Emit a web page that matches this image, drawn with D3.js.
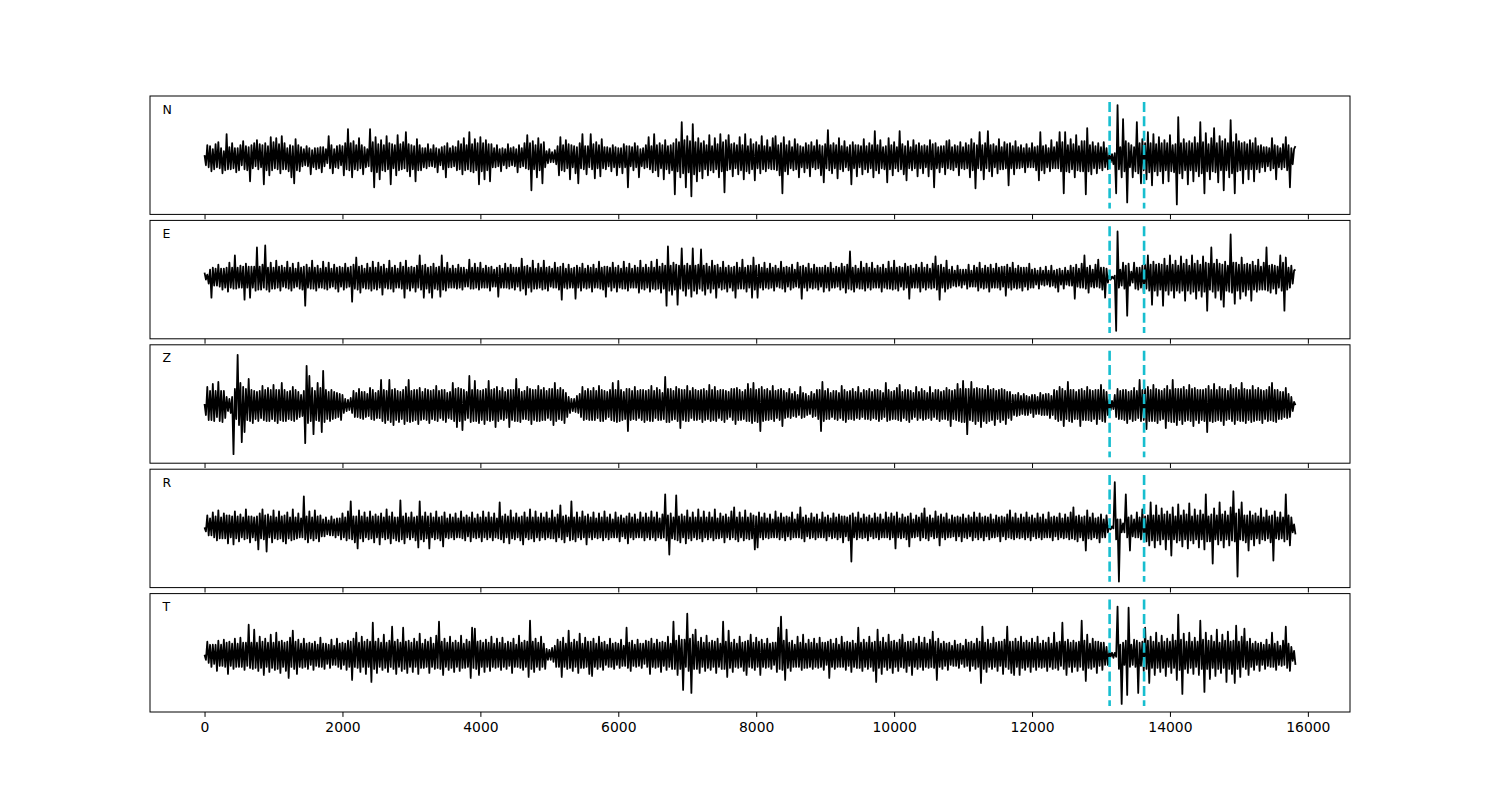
<!DOCTYPE html>
<html>
<head>
<meta charset="utf-8">
<script src="https://cdn.jsdelivr.net/npm/d3@7"></script>
<style>
body { margin: 0; background: #fff; }
svg { display: block; font-family: "DejaVu Sans", sans-serif; }
</style>
</head>
<body>
<svg></svg>
<script>
// channel names, one panel each
const channels = ["N", "E", "Z", "R", "T"];
// one value every 20 samples
const sampleStep = 20;
// phase picks (dashed lines)
const picks = [13125, 13625];
const xTicks = [0, 2000, 4000, 6000, 8000, 10000, 12000, 14000, 16000];
// y limits of each panel
const yLimits = [[-57, 61], [-61, 57], [-58, 60], [-60, 58], [-57, 61]];

const nVals = [
  2, -8, 12, -10, 11, -14, 8, -12, 13, -10, 15, -11, 9, -16, 6, -13, 23, -12, 10, -12,
  14, -11, 9, -15, 9, -13, 12, -8, 16, -12, 11, -13, 10, -24, 12, -11, 14, -9, 17, -12,
  13, -10, 12, -27, 14, -13, 11, -18, 20, -13, 15, -11, 19, -12, 13, -16, 21, -12, 14, -12,
  9, -14, 12, -20, 11, -26, 18, -13, 12, -14, 10, -9, 8, -8, 11, -9, 9, -17, 7, -10,
  9, -12, 9, -11, 10, -15, 10, -9, 8, -6, 21, -11, 12, -16, 8, -10, 11, -11, 12, -8,
  11, -18, 14, -12, 28, -13, 14, -20, 16, -12, 12, -13, 19, -11, 12, -17, 10, -10, 8, -9,
  28, -14, 15, -30, 20, -15, 13, -22, 17, -13, 12, -14, 21, -12, 14, -27, 13, -11, 12, -18,
  22, -13, 13, -12, 15, -11, 25, -14, 13, -19, 12, -12, 11, -24, 18, -13, 12, -13, 9, -10,
  9, -11, 13, -9, 8, -9, 12, -10, 9, -15, 8, -8, 10, -12, 11, -20, 14, -10, 9, -10,
  11, -9, 10, -13, 16, -12, 13, -17, 19, -13, 12, -12, 25, -14, 13, -15, 18, -13, 14, -27,
  20, -14, 14, -22, 17, -13, 13, -24, 13, -10, 9, -10, 12, -9, 8, -14, 9, -8, 8, -11,
  13, -9, 9, -8, 10, -9, 8, -15, 12, -10, 9, -9, 14, -11, 22, -12, 14, -33, 16, -12,
  12, -20, 19, -13, 13, -26, 15, -10, 6, -6, 8, -5, 5, -5, 7, -7, 11, -18, 20, -13,
  12, -14, 17, -11, 13, -22, 12, -10, 11, -16, 10, -26, 14, -11, 23, -12, 11, -17, 11, -10,
  23, -12, 13, -21, 15, -11, 12, -19, 18, -11, 10, -12, 10, -9, 9, -14, 12, -10, 10, -18,
  9, -10, 9, -16, 13, -10, 11, -30, 11, -9, 10, -13, 14, -10, 11, -20, 8, -9, 9, -11,
  12, -10, 20, -12, 11, -15, 23, -13, 12, -19, 14, -11, 12, -22, 17, -12, 11, -16, 12, -13,
  14, -37, 18, -14, 15, -20, 35, -16, 17, -30, 21, -15, 16, -39, 33, -17, 15, -24, 19, -14,
  14, -21, 16, -12, 12, -18, 22, -13, 11, -15, 19, -12, 13, -20, 23, -14, 15, -35, 17, -13,
  22, -12, 13, -19, 14, -11, 12, -17, 20, -13, 12, -22, 23, -14, 11, -16, 18, -12, 13, -23,
  15, -11, 12, -16, 21, -12, 11, -14, 17, -11, 10, -12, 19, -12, 21, -13, 12, -18, 14, -36,
  20, -14, 12, -17, 16, -11, 10, -13, 18, -12, 13, -20, 11, -10, 10, -15, 14, -11, 12, -19,
  15, -10, 11, -12, 17, -11, 12, -18, 11, -25, 13, -11, 27, -13, 12, -16, 14, -11, 12, -21,
  19, -12, 11, -14, 16, -10, 10, -13, 12, -27, 15, -11, 12, -19, 12, -10, 11, -17, 18, -12,
  11, -15, 14, -11, 12, -20, 26, -13, 12, -16, 17, -11, 10, -12, 11, -25, 19, -12, 12, -18,
  15, -11, 10, -14, 26, -12, 13, -17, 11, -23, 16, -11, 10, -13, 17, -11, 12, -19, 14, -11,
  11, -16, 12, -10, 11, -19, 17, -12, 13, -30, 14, -11, 10, -15, 11, -10, 11, -17, 16, -11,
  17, -12, 10, -13, 12, -10, 11, -18, 15, -11, 10, -12, 14, -11, 12, -20, 18, -13, 14, -31,
  12, -11, 25, -13, 12, -22, 14, -11, 26, -14, 12, -19, 13, -10, 11, -16, 18, -12, 10, -12,
  15, -11, 13, -28, 14, -11, 11, -17, 16, -11, 10, -11, 12, -10, 9, -15, 13, -10, 9, -10,
  14, -10, 10, -13, 11, -23, 25, -13, 11, -16, 12, -10, 9, -14, 17, -11, 10, -11, 15, -11,
  25, -14, 15, -36, 25, -14, 12, -15, 18, -12, 13, -20, 22, -13, 11, -14, 16, -14, 16, -37,
  29, -14, 12, -17, 15, -11, 11, -16, 14, -11, 10, -13, 15, -10, 9, -12, 4, -5, 3, -7,
  4, -36, 52, -12, 10, -20, 38, -14, 16, -45, 14, -10, 12, -20, 10, -14, 35, -16, 14, -26,
  18, -13, 14, -22, 25, -15, 14, -28, 23, -14, 13, -18, 20, -14, 14, -26, 17, -13, 14, -24,
  22, -14, 12, -15, 13, -47, 40, -16, 14, -21, 18, -13, 14, -27, 16, -13, 14, -24, 20, -14,
  14, -19, 35, -16, 15, -36, 24, -14, 13, -22, 19, -14, 29, -15, 14, -25, 21, -13, 16, -33,
  18, -13, 14, -20, 37, -16, 15, -36, 23, -14, 16, -13, 14, -26, 15, -12, 13, -22, 17, -12,
  14, -24, 19, -12, 11, -15, 12, -10, 10, -14, 10, -9, 9, -13, 19, -11, 12, -22, 11, -10,
  9, -12, 13, -10, 20, -13, 12, -30, 9, -7, 8, 11
];

const eVals = [
  5, -2, 3, -6, 8, -20, 10, -8, 9, -8, 13, -9, 9, -12, 9, -10, 10, -14, 15, -10,
  10, -11, 22, -11, 10, -10, 12, -10, 11, -22, 14, -10, 11, -20, 11, -10, 11, -13, 30, -12,
  11, -12, 13, -10, 32, -12, 10, -14, 15, -11, 10, -11, 17, -10, 11, -13, 12, -9, 10, -10,
  16, -11, 10, -13, 14, -10, 9, -9, 15, -11, 10, -12, 11, -28, 13, -10, 10, -11, 17, -11,
  10, -13, 12, -10, 9, -10, 16, -11, 10, -12, 15, -10, 9, -9, 13, -11, 10, -14, 11, -9,
  10, -12, 14, -10, 10, -9, 11, -24, 13, -11, 20, -12, 11, -15, 12, -10, 9, -11, 14, -11,
  10, -13, 16, -11, 10, -12, 15, -10, 11, -17, 13, -10, 9, -11, 17, -11, 10, -14, 12, -10,
  9, -10, 15, -11, 11, -20, 17, -11, 10, -13, 11, -10, 10, -14, 12, -10, 22, -12, 12, -20,
  13, -11, 10, -15, 11, -20, 14, -11, 10, -12, 11, -19, 22, -12, 10, -13, 15, -10, 9, -10,
  12, -10, 9, -11, 13, -10, 10, -12, 10, -9, 8, -9, 18, -11, 10, -11, 14, -10, 10, -12,
  15, -10, 9, -10, 12, -10, 10, -13, 11, -9, 8, -9, 10, -19, 12, -10, 9, -10, 14, -10,
  10, -11, 13, -10, 10, -12, 10, -9, 10, -13, 19, -11, 11, -17, 12, -10, 10, -14, 17, -11,
  9, -11, 14, -10, 10, -12, 17, -11, 10, -13, 11, -9, 9, -10, 15, -10, 10, -12, 11, -22,
  14, -10, 9, -11, 13, -10, 9, -10, 10, -21, 12, -10, 10, -13, 14, -10, 9, -11, 12, -10,
  10, -14, 13, -10, 9, -10, 16, -11, 10, -12, 11, -19, 11, -9, 10, -13, 15, -10, 10, -14,
  12, -10, 9, -11, 16, -11, 10, -13, 14, -10, 9, -10, 12, -10, 10, -15, 17, -11, 10, -12,
  13, -10, 10, -14, 16, -11, 10, -12, 18, -11, 11, -15, 14, -11, 12, -28, 31, -13, 12, -17,
  15, -12, 13, -27, 12, -11, 29, -13, 12, -18, 14, -11, 12, -19, 29, -13, 12, -16, 13, -11,
  28, -13, 12, -17, 14, -11, 11, -15, 17, -11, 12, -20, 13, -10, 10, -12, 16, -11, 10, -14,
  12, -10, 10, -13, 11, -20, 15, -11, 10, -11, 18, -11, 10, -14, 12, -10, 12, -20, 20, -12,
  12, -20, 13, -10, 10, -12, 15, -10, 9, -11, 14, -10, 10, -13, 12, -9, 9, -10, 16, -11,
  10, -14, 11, -9, 10, -12, 13, -10, 8, -9, 15, -10, 11, -21, 12, -10, 10, -13, 14, -10,
  9, -11, 13, -10, 10, -12, 10, -9, 10, -14, 12, -10, 10, -13, 15, -10, 9, -10, 11, -9,
  10, -12, 14, -10, 11, -15, 13, -11, 26, -12, 10, -14, 12, -10, 9, -11, 16, -11, 10, -13,
  14, -10, 10, -12, 15, -10, 9, -10, 12, -10, 10, -14, 13, -10, 9, -11, 16, -11, 10, -12,
  17, -11, 10, -13, 11, -9, 10, -12, 14, -10, 11, -21, 12, -10, 9, -10, 13, -10, 10, -14,
  15, -10, 10, -12, 13, -10, 9, -11, 14, -10, 21, -12, 12, -22, 13, -10, 10, -14, 17, -11,
  8, -10, 11, -8, 7, -9, 12, -8, 8, -10, 8, -7, 8, -11, 13, -9, 7, -9, 12, -9,
  10, -13, 15, -10, 9, -11, 12, -10, 10, -14, 13, -10, 9, -10, 14, -10, 10, -12, 11, -9,
  11, -18, 13, -10, 10, -12, 15, -10, 9, -11, 12, -10, 10, -13, 10, -9, 10, -12, 14, -10,
  8, -10, 9, -7, 7, -11, 10, -7, 7, -8, 11, -7, 7, -9, 12, -8, 7, -10, 8, -14,
  9, -7, 7, -11, 10, -7, 7, -8, 12, -8, 10, -21, 13, -9, 9, -10, 14, -10, 22, -11,
  10, -15, 12, -9, 8, -10, 13, -9, 18, -10, 10, -12, 10, -20, 9, -5, 2, -2, 1, -1,
  2, -53, 46, -10, 8, -8, 15, -11, 12, -38, 14, -8, 6, -5, 15, -11, 10, -12, 10, -10,
  12, -15, 13, -11, 22, -13, 13, -27, 16, -13, 13, -18, 14, -12, 13, -28, 19, -13, 12, -17,
  22, -13, 13, -20, 17, -13, 12, -15, 21, -13, 14, -23, 18, -13, 12, -16, 22, -14, 14, -21,
  17, -13, 13, -19, 21, -14, 15, -33, 14, -12, 30, -14, 14, -20, 18, -13, 14, -22, 13, -29,
  16, -13, 12, -14, 43, -15, 15, -26, 15, -13, 13, -21, 20, -14, 13, -18, 14, -12, 13, -23,
  16, -12, 12, -14, 18, -12, 11, -12, 15, -12, 30, -13, 12, -15, 13, -11, 12, -16, 11, -10,
  22, -13, 15, -33, 20, -12, 10, -10, 12, -6, 7, 8
];

const zVals = [
  1, -10, 18, -15, 14, -15, 21, -16, 14, -12, 23, -16, 14, -17, 14, -13, 8, -6, 6, -8,
  8, -49, 16, -14, 50, -20, 22, -37, 18, -27, 16, -15, 26, -16, 15, -18, 14, -14, 13, -16,
  14, -13, 19, -15, 15, -16, 17, -16, 15, -14, 20, -16, 15, -18, 15, -15, 22, -16, 15, -16,
  13, -14, 14, -15, 18, -16, 15, -14, 13, -12, 10, -11, 14, -38, 39, -18, 29, -16, 17, -29,
  14, -15, 22, -16, 17, -27, 34, -17, 15, -14, 13, -16, 15, -14, 13, -13, 12, -12, 11, -15,
  10, -8, 6, -6, 5, -5, 7, -8, 14, -12, 12, -12, 16, -13, 13, -14, 13, -12, 11, -11,
  17, -14, 15, -15, 12, -13, 14, -13, 25, -16, 15, -18, 14, -15, 25, -17, 15, -20, 16, -15,
  14, -17, 13, -14, 15, -19, 18, -16, 25, -17, 14, -16, 15, -15, 15, -19, 17, -15, 13, -14,
  16, -15, 15, -18, 14, -14, 15, -15, 19, -16, 14, -13, 15, -15, 15, -17, 12, -13, 13, -14,
  22, -16, 16, -22, 17, -16, 16, -25, 15, -15, 13, -13, 29, -17, 15, -16, 24, -16, 15, -18,
  14, -15, 15, -19, 16, -15, 24, -16, 15, -15, 16, -22, 18, -16, 14, -14, 17, -15, 13, -13,
  15, -22, 15, -15, 15, -16, 26, -16, 16, -17, 13, -14, 14, -14, 18, -15, 16, -19, 15, -15,
  15, -16, 19, -16, 15, -15, 17, -15, 14, -13, 16, -15, 16, -20, 22, -16, 15, -14, 17, -15,
  15, -18, 12, -12, 8, -8, 6, -6, 6, -7, 9, -8, 11, -12, 18, -15, 14, -14, 16, -15,
  14, -15, 17, -15, 14, -13, 19, -16, 15, -16, 14, -14, 13, -12, 15, -15, 22, -16, 15, -17,
  24, -16, 15, -15, 13, -14, 16, -26, 16, -15, 14, -14, 18, -15, 14, -13, 15, -15, 15, -17,
  14, -15, 15, -16, 19, -16, 14, -13, 17, -15, 15, -15, 12, -14, 28, -17, 16, -17, 16, -15,
  14, -14, 18, -16, 16, -23, 15, -15, 15, -16, 19, -16, 14, -13, 17, -15, 15, -15, 14, -14,
  15, -17, 16, -15, 14, -14, 20, -16, 15, -15, 18, -16, 14, -13, 15, -15, 15, -17, 14, -14,
  13, -12, 16, -15, 16, -19, 17, -15, 15, -15, 13, -14, 15, -16, 21, -16, 16, -18, 22, -16,
  15, -17, 16, -26, 18, -16, 15, -15, 16, -15, 14, -14, 19, -16, 14, -13, 15, -15, 16, -21,
  14, -13, 12, -12, 16, -13, 11, -11, 13, -12, 10, -10, 18, -13, 12, -12, 11, -10, 9, -9,
  13, -12, 11, -11, 15, -14, 15, -26, 23, -16, 14, -14, 16, -14, 12, -12, 14, -14, 14, -15,
  12, -13, 19, -15, 15, -17, 13, -14, 14, -14, 16, -15, 13, -13, 18, -14, 12, -12, 15, -14,
  14, -14, 16, -15, 13, -13, 15, -14, 15, -16, 14, -14, 12, -12, 22, -16, 15, -15, 13, -14,
  14, -14, 17, -15, 20, -16, 13, -13, 15, -15, 15, -17, 14, -14, 12, -12, 18, -15, 13, -13,
  16, -15, 14, -14, 12, -13, 18, -15, 12, -12, 15, -14, 15, -16, 13, -14, 14, -14, 17, -15,
  15, -21, 14, -14, 15, -15, 21, -16, 16, -17, 24, -17, 16, -29, 16, -15, 23, -16, 16, -19,
  17, -16, 16, -22, 16, -16, 15, -18, 19, -16, 15, -15, 16, -20, 14, -14, 15, -17, 16, -15,
  15, -19, 13, -13, 13, -15, 10, -10, 10, -11, 12, -10, 9, -9, 11, -10, 9, -10, 8, -8,
  10, -12, 10, -9, 8, -9, 12, -10, 10, -10, 11, -10, 11, -13, 9, -10, 15, -14, 14, -16,
  18, -15, 16, -21, 14, -14, 23, -16, 15, -17, 15, -14, 13, -14, 15, -21, 16, -15, 14, -15,
  18, -15, 15, -16, 14, -14, 15, -19, 15, -14, 20, -16, 15, -17, 13, -10, 5, -5, 4, -4,
  10, -12, 16, -14, 14, -14, 15, -15, 15, -18, 13, -14, 14, -16, 17, -15, 14, -13, 25, -16,
  15, -15, 16, -24, 18, -16, 15, -16, 20, -16, 16, -18, 15, -15, 14, -14, 16, -23, 19, -16,
  15, -17, 25, -17, 16, -20, 16, -15, 16, -19, 18, -16, 15, -15, 20, -16, 16, -21, 17, -15,
  15, -18, 15, -15, 15, -16, 16, -27, 19, -16, 15, -17, 21, -16, 15, -15, 18, -16, 16, -20,
  16, -15, 14, -14, 20, -16, 16, -19, 17, -15, 15, -16, 22, -16, 16, -18, 15, -15, 15, -17,
  19, -16, 15, -15, 17, -15, 15, -18, 14, -14, 15, -16, 18, -15, 22, -16, 15, -17, 15, -14,
  13, -14, 13, -12, 17, -13, 11, -12, 8, -6, 3, 0
];

const rVals = [
  0, -4, 12, -8, 9, -8, 15, -10, 11, -13, 17, -11, 10, -11, 14, -11, 12, -16, 12, -10,
  11, -17, 16, -11, 11, -14, 13, -10, 10, -12, 18, -11, 11, -15, 11, -10, 10, -13, 11, -22,
  14, -11, 18, -12, 12, -24, 13, -10, 11, -15, 17, -11, 10, -12, 16, -11, 11, -14, 12, -16,
  15, -11, 10, -13, 18, -12, 10, -11, 14, -10, 9, -10, 31, -12, 11, -15, 16, -11, 10, -13,
  17, -11, 11, -14, 12, -9, 8, -9, 10, -7, 7, -8, 11, -8, 8, -10, 9, -8, 9, -12,
  14, -10, 10, -13, 16, -11, 26, -12, 11, -15, 11, -21, 17, -11, 11, -14, 15, -10, 10, -12,
  16, -11, 11, -15, 13, -10, 11, -17, 14, -10, 10, -12, 18, -11, 11, -16, 15, -11, 10, -13,
  10, -14, 27, -12, 11, -16, 14, -10, 10, -12, 15, -10, 10, -13, 11, -20, 26, -12, 11, -14,
  15, -11, 11, -21, 14, -10, 10, -12, 16, -11, 10, -13, 11, -19, 15, -10, 9, -11, 13, -10,
  10, -12, 14, -10, 9, -10, 16, -11, 10, -13, 12, -9, 10, -14, 15, -10, 9, -11, 13, -10,
  10, -14, 16, -10, 10, -12, 15, -10, 10, -13, 14, -10, 9, -11, 25, -12, 11, -15, 13, -10,
  11, -16, 17, -11, 10, -12, 14, -10, 10, -13, 11, -17, 15, -10, 10, -12, 18, -11, 10, -14,
  16, -10, 10, -13, 14, -10, 10, -12, 15, -10, 9, -11, 17, -11, 10, -14, 13, -10, 22, -12,
  11, -15, 12, -9, 10, -13, 26, -12, 10, -14, 15, -10, 10, -12, 16, -10, 11, -17, 13, -10,
  10, -12, 15, -10, 9, -11, 14, -10, 10, -13, 16, -10, 10, -12, 13, -10, 8, -10, 15, -10,
  10, -14, 12, -9, 9, -11, 11, -16, 14, -10, 10, -12, 13, -10, 8, -10, 15, -10, 10, -13,
  14, -10, 10, -12, 16, -10, 10, -13, 15, -10, 9, -11, 13, -10, 33, -13, 12, -27, 14, -11,
  10, -12, 32, -13, 11, -15, 13, -10, 11, -16, 17, -11, 10, -13, 15, -10, 10, -12, 18, -11,
  10, -14, 16, -10, 10, -12, 15, -10, 10, -13, 18, -11, 9, -11, 14, -10, 11, -15, 13, -10,
  10, -12, 16, -10, 20, -12, 10, -14, 15, -10, 10, -13, 17, -11, 10, -12, 14, -11, 12, -22,
  11, -20, 15, -10, 10, -12, 14, -10, 9, -11, 13, -10, 8, -10, 16, -10, 10, -12, 14, -10,
  10, -13, 11, -9, 10, -12, 15, -10, 8, -10, 13, -10, 20, -11, 10, -14, 12, -9, 9, -11,
  14, -10, 10, -12, 13, -10, 8, -10, 15, -10, 10, -13, 12, -9, 9, -11, 14, -10, 10, -12,
  13, -10, 11, -15, 11, -9, 10, -13, 12, -34, 14, -10, 10, -12, 15, -10, 9, -11, 13, -10,
  10, -13, 12, -9, 9, -11, 14, -10, 10, -12, 13, -10, 8, -10, 15, -10, 10, -12, 14, -10,
  11, -21, 15, -10, 9, -11, 13, -10, 10, -12, 11, -19, 14, -10, 8, -10, 12, -9, 10, -13,
  14, -10, 19, -11, 10, -13, 12, -9, 9, -11, 16, -10, 11, -18, 13, -10, 10, -12, 14, -10,
  8, -10, 12, -9, 10, -13, 11, -9, 10, -14, 13, -10, 9, -11, 12, -9, 10, -13, 15, -10,
  10, -12, 14, -10, 10, -13, 11, -9, 10, -12, 13, -10, 8, -10, 12, -9, 10, -14, 11, -9,
  10, -12, 13, -10, 17, -11, 10, -12, 14, -10, 9, -11, 13, -10, 10, -12, 15, -10, 10, -13,
  12, -9, 9, -11, 14, -10, 10, -12, 13, -10, 8, -10, 15, -10, 10, -13, 11, -9, 10, -12,
  14, -10, 9, -11, 13, -10, 10, -12, 15, -11, 20, -12, 11, -14, 12, -10, 10, -13, 11, -23,
  17, -11, 10, -12, 14, -10, 9, -11, 10, -15, 13, -10, 8, -10, 12, -5, 2, -2, 1, -1,
  45, -12, 8, -54, 8, -5, 4, -5, 33, -10, 10, -23, 12, -9, 8, -10, 15, -10, 10, -12,
  18, -12, 11, -14, 12, -18, 25, -13, 12, -20, 22, -13, 12, -17, 19, -12, 13, -22, 16, -12,
  13, -28, 20, -12, 11, -15, 23, -13, 12, -19, 17, -12, 13, -21, 24, -13, 11, -16, 18, -12,
  12, -20, 17, -12, 13, -22, 33, -14, 11, -14, 13, -36, 19, -12, 12, -17, 25, -13, 13, -20,
  16, -12, 12, -18, 20, -13, 36, -14, 14, -49, 18, -12, 25, -13, 12, -15, 12, -23, 16, -12,
  12, -18, 14, -11, 11, -16, 19, -12, 10, -13, 17, -11, 11, -15, 12, -33, 16, -11, 10, -12,
  15, -11, 10, -14, 33, -12, 12, -18, 10, -5, 3, -7
];

const tVals = [
  0, -5, 13, -8, 10, -12, 10, -9, 10, -16, 14, -11, 10, -11, 15, -12, 12, -19, 13, -11,
  11, -14, 16, -12, 11, -12, 17, -12, 12, -15, 12, -11, 30, -13, 12, -14, 25, -13, 12, -16,
  18, -13, 13, -20, 16, -12, 12, -17, 20, -13, 12, -15, 22, -14, 13, -18, 14, -12, 12, -16,
  13, -23, 17, -12, 24, -14, 13, -19, 15, -12, 11, -13, 16, -12, 11, -14, 12, -10, 11, -15,
  13, -11, 10, -12, 17, -12, 11, -14, 11, -9, 10, -13, 15, -10, 9, -10, 16, -12, 11, -14,
  12, -10, 11, -15, 14, -12, 13, -25, 16, -12, 22, -13, 12, -17, 18, -12, 13, -19, 15, -12,
  13, -27, 32, -14, 13, -18, 16, -12, 12, -15, 20, -13, 12, -17, 14, -12, 28, -14, 13, -19,
  15, -12, 12, -16, 27, -14, 13, -18, 14, -12, 12, -17, 16, -12, 13, -19, 21, -13, 11, -13,
  15, -12, 13, -18, 17, -12, 11, -14, 19, -13, 33, -14, 13, -20, 16, -12, 12, -15, 18, -13,
  12, -17, 14, -12, 12, -16, 19, -13, 11, -13, 15, -12, 13, -23, 27, -13, 26, -14, 13, -20,
  14, -12, 12, -17, 15, -12, 12, -16, 18, -12, 11, -13, 16, -12, 12, -15, 17, -12, 11, -14,
  13, -11, 12, -18, 16, -12, 10, -12, 19, -13, 12, -15, 14, -12, 13, -22, 34, -14, 13, -17,
  16, -12, 12, -15, 18, -12, 11, -14, 6, -5, 5, -5, 7, -7, 9, -12, 15, -12, 13, -22,
  17, -12, 11, -14, 24, -13, 12, -16, 15, -12, 13, -18, 21, -13, 11, -13, 17, -12, 13, -19,
  13, -21, 16, -12, 11, -14, 18, -12, 12, -15, 13, -10, 10, -12, 16, -12, 11, -14, 12, -10,
  11, -13, 15, -11, 9, -11, 27, -13, 12, -16, 14, -11, 10, -12, 15, -11, 11, -13, 11, -9,
  14, -12, 13, -19, 16, -12, 11, -13, 15, -12, 12, -17, 13, -11, 12, -15, 18, -12, 11, -14,
  33, -14, 14, -20, 19, -14, 15, -35, 15, -12, 41, -16, 16, -38, 20, -14, 25, -14, 13, -18,
  17, -12, 12, -16, 19, -13, 12, -15, 14, -12, 13, -18, 16, -12, 11, -14, 33, -14, 13, -22,
  24, -13, 12, -17, 15, -12, 11, -13, 18, -12, 12, -16, 13, -20, 14, -12, 20, -13, 12, -15,
  17, -12, 13, -20, 15, -12, 11, -13, 16, -12, 11, -14, 12, -10, 12, -17, 27, -14, 38, -15,
  14, -25, 25, -13, 12, -16, 14, -12, 10, -12, 18, -12, 12, -15, 20, -13, 11, -13, 15, -12,
  12, -14, 16, -12, 11, -13, 17, -12, 12, -15, 12, -10, 13, -23, 15, -12, 11, -14, 16, -12,
  10, -12, 18, -12, 12, -15, 13, -11, 12, -17, 14, -12, 11, -13, 27, -13, 12, -16, 15, -12,
  12, -14, 18, -12, 12, -16, 13, -27, 25, -13, 13, -19, 17, -12, 12, -15, 20, -13, 13, -18,
  14, -12, 12, -16, 15, -12, 20, -13, 12, -17, 13, -11, 13, -20, 16, -12, 11, -14, 18, -12,
  12, -15, 17, -12, 11, -13, 15, -12, 23, -13, 13, -25, 16, -12, 11, -14, 13, -11, 11, -15,
  12, -10, 9, -11, 14, -11, 10, -13, 11, -9, 9, -12, 15, -11, 12, -16, 13, -11, 11, -14,
  16, -12, 13, -28, 28, -14, 12, -17, 15, -12, 11, -14, 17, -12, 12, -16, 13, -11, 13, -19,
  15, -12, 28, -14, 13, -18, 13, -20, 16, -12, 13, -20, 18, -13, 12, -15, 14, -12, 12, -17,
  16, -12, 12, -15, 18, -12, 11, -13, 14, -12, 12, -16, 17, -12, 11, -14, 22, -13, 12, -15,
  13, -11, 32, -14, 13, -20, 15, -12, 12, -17, 14, -12, 12, -16, 13, -12, 34, -15, 14, -26,
  20, -13, 11, -14, 16, -12, 13, -18, 13, -11, 12, -15, 12, -10, 8, -10, 4, -2, 2, -3,
  2, -2, 48, -14, 10, -49, 12, -10, 14, -40, 47, -12, 10, -10, 15, -12, 14, -38, 12, -11,
  13, -16, 27, -14, 14, -28, 18, -13, 13, -20, 22, -13, 12, -17, 19, -13, 13, -21, 16, -12,
  13, -18, 20, -13, 14, -25, 40, -15, 15, -39, 21, -14, 13, -18, 22, -13, 13, -19, 17, -12,
  13, -20, 34, -14, 15, -37, 22, -14, 14, -24, 19, -13, 13, -21, 25, -14, 12, -18, 20, -13,
  14, -27, 23, -14, 13, -19, 14, -28, 29, -14, 13, -22, 18, -12, 26, -14, 13, -20, 16, -12,
  11, -15, 13, -10, 11, -16, 12, -10, 10, -14, 15, -11, 10, -12, 22, -12, 11, -15, 13, -10,
  9, -11, 14, -10, 28, -13, 11, -16, 8, -6, 4, -10
];

const traces = [nVals, eVals, zVals, rVals, tVals];

// The svg
let width = 1500;
let height = 800;
const svg = d3.select("svg").attr("width", width).attr("height", height);

let left = 150, right = 1350, panelTop = 96, panelH = 118.4, gap = 6;

let lastX = (nVals.length - 1) * sampleStep;
let x = d3.scaleLinear()
    .domain([-0.05 * lastX, 1.05 * lastX])
    .range([left, right]);

channels.forEach(function (name, i) {
    let y0 = panelTop + i * (panelH + gap);
    let y = d3.scaleLinear().domain(yLimits[i]).range([y0 + panelH, y0]);
    let g = svg.append("g");

    let line = d3.line()
        .x(function (d, j) { return x(j * sampleStep); })
        .y(function (d) { return y(d); });

    g.append("path")
        .datum(traces[i])
        .attr("d", line)
        .attr("fill", "none")
        .attr("stroke", "#000")
        .attr("stroke-width", 1.8)
        .attr("stroke-linejoin", "round");

    // dashed pick lines, 5%..95% of the panel height
    g.selectAll(".pick")
        .data(picks)
        .enter()
        .append("line")
        .attr("x1", function (d) { return x(d); })
        .attr("x2", function (d) { return x(d); })
        .attr("y1", y0 + panelH * 0.05)
        .attr("y2", y0 + panelH * 0.95)
        .attr("stroke", "#17becf")
        .attr("stroke-width", 2.6)
        .attr("stroke-dasharray", "10,4.4");

    // frame
    g.append("rect")
        .attr("x", left)
        .attr("y", y0)
        .attr("width", right - left)
        .attr("height", panelH)
        .attr("fill", "none")
        .attr("stroke", "#000")
        .attr("stroke-width", 1);

    // x ticks on every panel, labels only at the bottom
    let axis = d3.axisBottom(x)
        .tickValues(xTicks)
        .tickSize(4.9)
        .tickPadding(5)
        .tickFormat(i === channels.length - 1 ? d3.format("d") : "");
    let ax = g.append("g")
        .attr("transform", "translate(0," + (y0 + panelH) + ")")
        .call(axis);
    ax.select(".domain").remove();
    ax.selectAll("line").attr("stroke", "#000");
    ax.selectAll("text")
        .attr("fill", "#000")
        .style("font-size", "13.9px")
        .style("font-family", "DejaVu Sans, sans-serif");

    g.append("text")
        .attr("x", 162.5)
        .attr("y", y0 + 17.5)
        .style("font-size", "12.5px")
        .text(name);
});
</script>
</body>
</html>
